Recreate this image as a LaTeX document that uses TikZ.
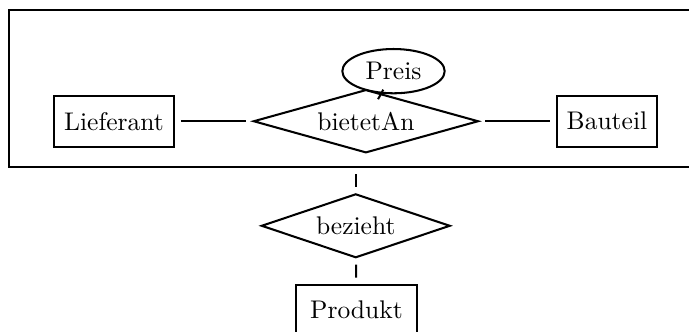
\documentclass[tikz,border=0pt]{standalone}
\usetikzlibrary{shapes.geometric,calc}
\begin{document}
\begin{tikzpicture}[
        entity/.style={draw,thick,rectangle,inner xsep=4pt,minimum height=0.7cm},
        relation/.style={draw,thick,diamond,aspect=3.5,inner sep=0pt},
        attribute/.style={draw,thick,ellipse,inner sep=1pt,minimum width=1.41cm,minimum height=0.61cm},
        link/.style={thick,shorten <=2.3pt,shorten >=2.3pt}
    ]
        \useasboundingbox (0,0) rectangle (9.49,-4.56);
        \clip (0,0) rectangle (9.49,-4.56);
        %% aggregation frame
        \node[draw,line width=1pt,rectangle,minimum width=9.55cm,minimum height=2.165cm] (agg) at (4.90,-1.22) {};
        %% inner relationship
        \node[entity] (lieferant) at (1.57,-1.67) {Lieferant};
        \node[relation,minimum width=3.10cm,minimum height=0.87cm] (bietetan) at (5.04,-1.67) {bietetAn};
        \node[entity] (bauteil) at (8.36,-1.67) {Bauteil};
        \node[attribute] (preis) at (5.42,-0.98) {Preis};
        \draw[link] (lieferant) -- (bietetan);
        \draw[link] (bietetan) -- (bauteil);
        \draw[thick] ($(preis)!0.37!(bietetan)$) -- ($(preis)!0.56!(bietetan)$);
        %% outer relationship
        \node[relation,aspect=3,minimum width=2.60cm,minimum height=0.88cm] (bezieht) at (4.90,-3.11) {bezieht};
        \node[entity,minimum width=1.66cm] (produkt) at (4.91,-4.27) {Produkt};
        \draw[link] (agg.south) -- (bezieht);
        \draw[link] (bezieht) -- (produkt);
    \end{tikzpicture}
\end{document}
